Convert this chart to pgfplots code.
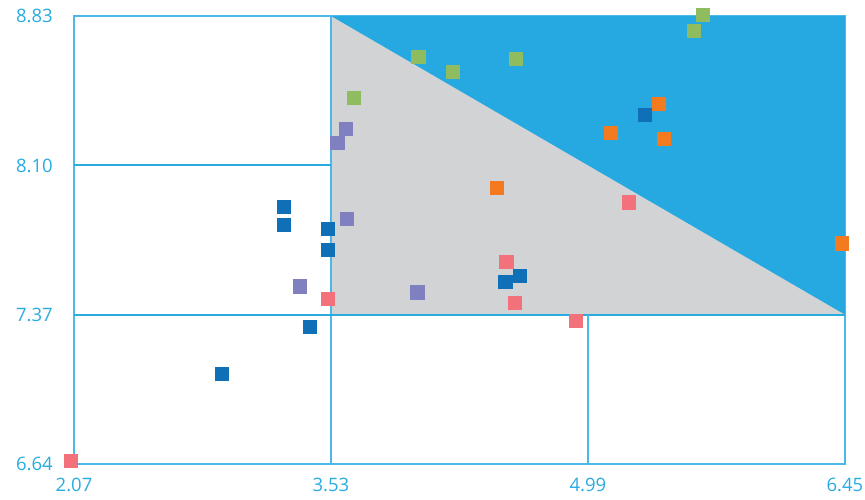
\documentclass[border=0pt]{standalone}
\usepackage{pgfplots}
\pgfplotsset{compat=1.18}
\usepackage{fontspec}
\setmainfont{Open Sans}
\definecolor{lineblue}{HTML}{4BB8E8}
\definecolor{tickblue}{HTML}{29ABE2}
\definecolor{fillblue}{HTML}{25A9E0}
\definecolor{fillgray}{HTML}{D1D3D4}
\definecolor{sdblue}{HTML}{0F70B7}
\definecolor{sorange}{HTML}{F47A20}
\definecolor{sgreen}{HTML}{8FBC5F}
\definecolor{spurple}{HTML}{8080C0}
\definecolor{spink}{HTML}{F2717A}
\pgfplotsset{mk/.style={only marks, mark=square*, mark size=6.6pt, color=#1, mark options={fill=#1, draw=#1, line width=0.4pt}}}
\begin{document}
\begin{tikzpicture}
\begin{axis}[
  scale only axis,
  width=771pt, height=448pt,
  xmin=2.07, xmax=6.45, ymin=6.64, ymax=8.83,
  clip=false,
  xtick={2.07,3.53,4.99,6.45},
  ytick={6.64,7.37,8.10,8.83},
  major tick length=0pt,
  axis line style={draw=lineblue, line width=1.5pt},
  tick label style={font=\fontsize{18.5}{20}\selectfont, text=tickblue, inner sep=0pt},
  yticklabel style={xshift=-21pt},
  xticklabel style={yshift=-14pt},
  /pgf/number format/.cd, fixed, precision=2, fixed zerofill, assume math mode=true,
]
% invisible frame for picture proportions
\path (rel axis cs:-0.096,-0.080) rectangle (rel axis cs:1.026,1.036);
% fills
\addplot[fill=fillblue, draw=none, mark=none] coordinates {(3.53,7.37) (6.45,7.37) (6.45,8.83) (3.53,8.83)} -- cycle;
\addplot[fill=fillgray, draw=none, mark=none] coordinates {(3.53,7.37) (6.45,7.37) (3.53,8.83)} -- cycle;
% internal lines
\addplot[lineblue, line width=1.6pt, mark=none] coordinates {(3.53,6.64) (3.53,8.83)};
\addplot[tickblue, line width=1.9pt, mark=none] coordinates {(2.07,8.10) (3.53,8.10)};
\addplot[tickblue, line width=1.9pt, mark=none] coordinates {(2.07,7.37) (6.45,7.37)};
\addplot[lineblue, line width=1.6pt, mark=none] coordinates {(4.99,6.64) (4.99,7.37)};
% markers
\addplot[mk=sdblue] coordinates {
(3.26,7.90) (3.26,7.81) (3.51,7.79) (3.51,7.69) (3.41,7.31) (2.91,7.08) (4.52,7.53) (4.60,7.56) (5.31,8.35)};
\addplot[mk=sorange] coordinates {
(4.47,7.99) (5.39,8.40) (5.12,8.26) (5.42,8.23) (6.43,7.72)};
\addplot[mk=sgreen] coordinates {
(4.025,8.63) (4.22,8.56) (4.58,8.62) (3.66,8.43) (5.64,8.835) (5.59,8.76)};
\addplot[mk=spurple] coordinates {
(3.615,8.28) (3.565,8.21) (3.62,7.84) (3.35,7.51) (4.02,7.48)};
\addplot[mk=spink] coordinates {
(3.51,7.45) (4.525,7.63) (4.575,7.43) (4.92,7.34) (5.22,7.92) (2.053,6.655)};
\end{axis}
\end{tikzpicture}
\end{document}
